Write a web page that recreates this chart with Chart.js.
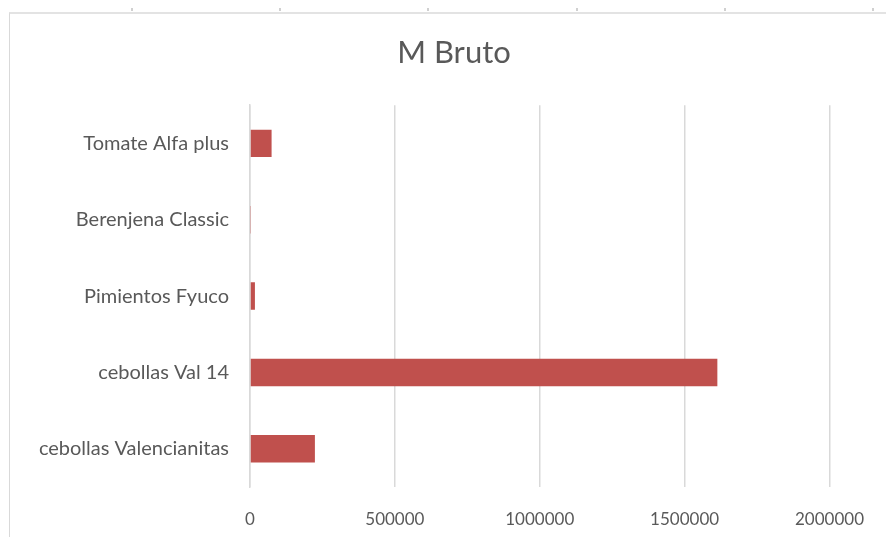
<!DOCTYPE html>
<html>
<head>
<meta charset="utf-8">
<script src="https://cdn.jsdelivr.net/npm/chart.js@4.4.0/dist/chart.umd.min.js"></script>
<style>
    html, body { margin: 0; padding: 0; background: #fff; }
    #wrap { position: relative; width: 886px; height: 537px; overflow: hidden; }
    #frame { position: absolute; left: 9px; top: 12px; width: 900px; height: 600px;
             border-left: 1px solid #d9d9d9; border-top: 2px solid #e3e3e3; }
    .mark { position: absolute; top: 8px; width: 2px; height: 3px; background: #d0d0d0; }
    canvas { position: absolute; left: 0; top: 0; }
</style>
</head>
<body>
<div id="wrap">
    <div id="frame"></div>
    <div class="mark" style="left:131px"></div>
    <div class="mark" style="left:279px"></div>
    <div class="mark" style="left:427px"></div>
    <div class="mark" style="left:576px"></div>
    <div class="mark" style="left:724px"></div>
    <div class="mark" style="left:872px"></div>
    <canvas id="barras" width="886" height="537"></canvas>
</div>
<script>
/*--------------------DATA--------------------*/
let productos = ['Tomate Alfa plus', 'Berenjena Classic', 'Pimientos Fyuco', 'cebollas Val 14', 'cebollas Valencianitas'];
let mBruto = [74500, 1500, 17000, 1613000, 224000];
let ticksX = [0, 500000, 1000000, 1500000, 2000000];

/*--------------------CHART--------------------*/
let textColor = '#595959';
let gridColor = '#d9d9d9';
let fontFamily = 'Lato, "Open Sans", sans-serif';

// shift the title box so it is centred like in the original
let shiftTitle = {
    id: 'shiftTitle',
    afterLayout(chart) {
        if (chart.titleBlock) chart.titleBlock.left = 75;
    }
};

let barrasCanvas = document.getElementById('barras');
let barrasChart = new Chart(barrasCanvas, {
    type: 'bar',
    data: {
        labels: productos,
        datasets: [
            {
                label: 'M Bruto',
                data: mBruto,
                backgroundColor: '#c0504d',
                barPercentage: 0.36,
                categoryPercentage: 1
            }
        ]
    },
    options: {
        indexAxis: 'y',
        responsive: false,
        animation: false,
        layout: { padding: { left: 0, right: 53, top: 0, bottom: 0 } },
        plugins: {
            legend: { display: false },
            tooltip: { enabled: false },
            title: {
                display: true,
                text: 'M Bruto',
                color: textColor,
                font: { family: fontFamily, size: 31, weight: 'normal' },
                padding: { top: 34, bottom: 34 }
            }
        },
        scales: {
            x: {
                min: 0,
                max: 2000000,
                afterBuildTicks: (scale) => { scale.ticks = ticksX.map((v) => ({ value: v })); },
                afterFit: (scale) => { scale.height = 50; },
                grid: { color: gridColor, lineWidth: 1.5, drawTicks: false },
                border: { display: false },
                ticks: {
                    color: textColor,
                    padding: 22,
                    font: { family: fontFamily, size: 17 },
                    callback: (v) => String(v)
                }
            },
            y: {
                afterFit: (scale) => { scale.width = 250; },
                grid: { display: false, drawTicks: false },
                border: { display: true, color: gridColor, width: 1.5 },
                ticks: {
                    color: textColor,
                    padding: 21,
                    font: { family: fontFamily, size: 20 }
                }
            }
        }
    },
    plugins: [shiftTitle]
});
</script>
</body>
</html>
